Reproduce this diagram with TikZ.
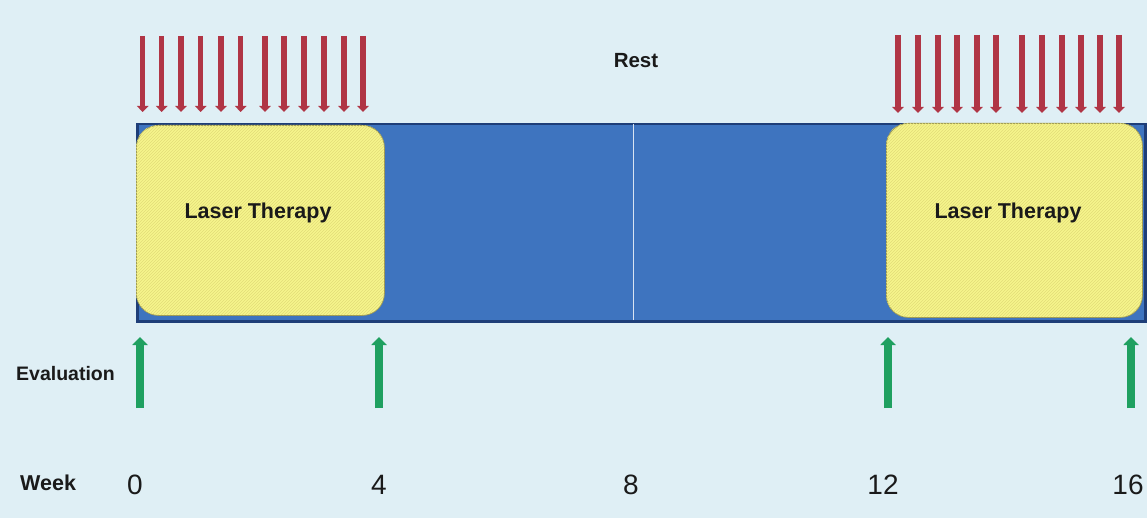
\documentclass[tikz,border=0pt]{standalone}
\usepackage{fontspec}
\setmainfont{Liberation Sans}
\usetikzlibrary{arrows.meta,patterns}
\definecolor{bg}{HTML}{DFEFF5}
\definecolor{barfill}{HTML}{3E74BF}
\definecolor{barline}{HTML}{1E3E78}
\definecolor{laser}{HTML}{F6F68C}
\definecolor{hatch}{HTML}{E2DC78}
\definecolor{redarrow}{HTML}{B03545}
\definecolor{greenarrow}{HTML}{1FA060}
\definecolor{txt}{HTML}{1A1A1A}
\tikzset{
  treat/.style={-{Triangle[width=11.5pt,length=6pt]}, line width=5.5pt, draw=redarrow},
  evalarrow/.style={-{Triangle[width=15pt,length=8pt]}, line width=7.5pt, draw=greenarrow},
  laserbox/.style={rounded corners=22pt, fill=laser, draw=hatch!70!black, line width=0.8pt},
  boldlabel/.style={font=\bfseries, text=txt, inner sep=0pt},
  weeklabel/.style={font=\fontsize{28}{30}\selectfont, text=txt, inner sep=0pt, anchor=base}
}
\begin{document}
\begin{tikzpicture}[x=1pt,y=-1pt]
\fill[bg] (0,0) rectangle (1147,518);
\useasboundingbox (0,0) rectangle (1147,518);
% bar
\node[draw=barline, fill=barfill, line width=2.5pt, minimum width=1008pt, minimum height=197pt, inner sep=0pt, anchor=north west] (bar) at (136,123) {};
\draw[white!80!barfill, line width=1pt] (633,124) -- (633,320);
% laser boxes
\node[laserbox, minimum width=248pt, minimum height=190pt, anchor=north west] (l1) at (136,125) {};
\fill[pattern=north east lines, pattern color=hatch, rounded corners=22pt] (136,125) rectangle (384,315);
\node[boldlabel, font=\bfseries\fontsize{21.5}{23}\selectfont] (t1) at (258,213) {Laser Therapy};
\node[laserbox, minimum width=256pt, minimum height=194pt, anchor=north west] (l2) at (886,123) {};
\fill[pattern=north east lines, pattern color=hatch, rounded corners=22pt] (886,123) rectangle (1142,317);
\node[boldlabel, font=\bfseries\fontsize{21.5}{23}\selectfont] (t2) at (1008,213) {Laser Therapy};
% rest
\node[boldlabel, font=\bfseries\fontsize{20.5}{22}\selectfont] (rest) at (636,61) {Rest};
% red arrows
\foreach \x [count=\i] in {142.7,161.7,181,200.7,221,240.7,265,284,304,324,344,363}{
  \coordinate (ra\i) at (\x,36); \coordinate (rb\i) at (\x,112);
  \draw[treat] (ra\i) -- (rb\i);
}
\foreach \x [count=\i] in {898,918,938,957,977,996,1022,1042,1062,1081,1100,1119}{
  \coordinate (sa\i) at (\x,35); \coordinate (sb\i) at (\x,113);
  \draw[treat] (sa\i) -- (sb\i);
}
% evaluation
\node[boldlabel, font=\bfseries\fontsize{19.5}{21}\selectfont, anchor=base west] (eval) at (16,380) {Evaluation};
\foreach \x [count=\i] in {140,379,888,1131}{
  \coordinate (ga\i) at (\x,408); \coordinate (gb\i) at (\x,337);
  \draw[evalarrow] (ga\i) -- (gb\i);
}
% weeks
\node[boldlabel, font=\bfseries\fontsize{21.5}{23}\selectfont, anchor=base west] (week) at (20,490) {Week};
\node[weeklabel] (w0) at (135,494) {0};
\node[weeklabel] (w4) at (379,494) {4};
\node[weeklabel] (w8) at (631,494) {8};
\node[weeklabel] (w12) at (883,494) {12};
\node[weeklabel] (w16) at (1128,494) {16};
\end{tikzpicture}
\end{document}
